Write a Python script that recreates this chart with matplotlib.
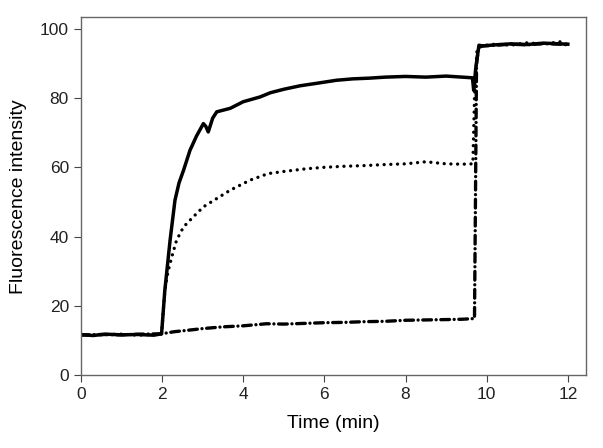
import matplotlib
matplotlib.use('Agg')
import matplotlib.pyplot as plt

# solid trace
t_solid = [0, 0.3, 0.6, 1.0, 1.4, 1.8, 1.99, 2.07, 2.2, 2.32, 2.42, 2.53, 2.69, 2.85, 3.02, 3.08,
           3.14, 3.25, 3.35, 3.68, 4.0, 4.42, 4.67, 5.0, 5.4, 5.8, 6.3, 6.7, 7.1, 7.5, 8.0, 8.5,
           9.0, 9.4, 9.65, 9.68, 9.73, 9.81, 9.9, 10.2, 10.6, 11.0, 11.4, 11.8, 12.0]
y_solid = [11.8, 11.5, 11.9, 11.7, 11.8, 11.6, 12.0, 24.5, 39, 50.5, 55.5, 59.1, 64.9, 69, 72.6, 71.8,
           70.2, 74.2, 76.0, 77.0, 78.9, 80.3, 81.5, 82.5, 83.5, 84.2, 85.1, 85.5, 85.7, 86.0, 86.2, 86.0,
           86.3, 86.0, 85.8, 82.2, 88.5, 95.2, 95.0, 95.3, 95.6, 95.4, 95.8, 95.6, 95.5]

# dotted trace
t_dot = [0, 0.3, 0.6, 1.0, 1.4, 1.8, 1.99, 2.07, 2.15, 2.24, 2.36, 2.53, 2.77, 3.02, 3.35, 3.68,
         4.17, 4.62, 5.0, 5.57, 6.0, 6.5, 7.0, 7.5, 8.0, 8.5, 9.0, 9.4, 9.66, 9.7, 9.76, 9.85,
         10.2, 10.6, 11.0, 11.4, 11.8, 12.0]
y_dot = [11.7, 11.6, 11.8, 11.9, 11.6, 11.8, 12.0, 24.5, 30, 34.1, 39.0, 42.8, 45.7, 48.6, 51.0, 53.4,
         56.3, 58.2, 58.8, 59.6, 60.0, 60.3, 60.5, 60.8, 61.0, 61.6, 61.0, 60.9, 61.0, 80, 93.5, 95.0,
         95.5, 95.2, 95.9, 95.5, 96.2, 95.4]

# dash-dot trace
t_dd = [0, 0.5, 1.0, 1.5, 1.99, 2.3, 2.7, 3.0, 3.5, 4.0, 4.58, 5.0, 5.5, 6.0, 6.5, 7.0, 7.5,
        8.0, 8.5, 9.0, 9.4, 9.7, 9.73, 9.75, 9.8, 9.9, 10.2, 10.6, 11.0, 11.4, 11.8, 12.0]
y_dd = [11.6, 11.8, 11.7, 11.9, 12.0, 12.6, 13.1, 13.5, 14.0, 14.3, 14.9, 14.8, 15.0, 15.2, 15.3, 15.5, 15.6,
        15.9, 16.0, 16.1, 16.2, 16.4, 60, 90, 94.5, 95.0, 95.2, 95.5, 95.3, 95.7, 95.5, 95.3]

plt.rcParams['font.family'] = ['Liberation Sans', 'DejaVu Sans']

fig = plt.figure(figsize=(6.03, 4.48), dpi=100)
ax = fig.add_axes([0.134, 0.162, 0.838, 0.799])

ax.plot(t_solid, y_solid, color='black', lw=2.5, solid_joinstyle='round')
ax.plot(t_dot, y_dot, color='black', lw=2.4, linestyle=(0, (0.01, 2.0)), dash_capstyle='round')
ax.plot(t_dd, y_dd, color='black', lw=2.4, linestyle=(0, (2.6, 1.4, 0.01, 1.4)),
        dash_capstyle='round')

ax.set_xlim(0, 12.45)
ax.set_ylim(0, 103.2)
ax.set_xticks([0, 2, 4, 6, 8, 10, 12])
ax.set_yticks([0, 20, 40, 60, 80, 100])
ax.set_xlabel('Time (min)', fontsize=14, labelpad=9)
ax.set_ylabel('Fluorescence intensity', fontsize=14, labelpad=9)
ax.tick_params(axis='both', labelsize=12.5, direction='out', length=5, color='#444444',
               labelcolor='#222222', top=False, right=False)
for s in ax.spines.values():
    s.set_color('#666666')
    s.set_linewidth(1.0)

fig.savefig('out.png', dpi=100)
